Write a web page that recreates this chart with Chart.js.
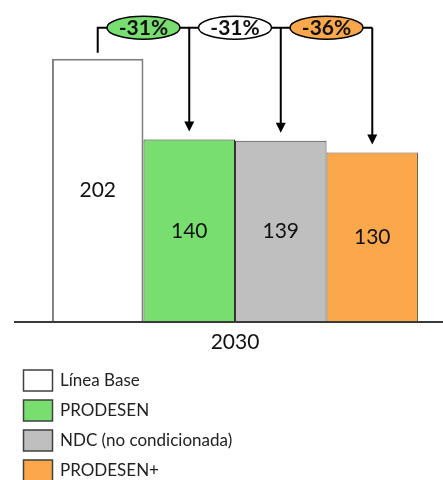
<!DOCTYPE html>
<html><head><meta charset="utf-8">
<script src="https://cdn.jsdelivr.net/npm/chart.js@4"></script>
<style>html,body{margin:0;padding:0;background:#fff}canvas{display:block}</style>
</head><body>
<canvas id="c" width="443" height="480"></canvas>
<script>
// Emisiones al 2030 por escenario
const categories = ['2030'];
const seriesNames = ['Línea Base', 'PRODESEN', 'NDC (no condicionada)', 'PRODESEN+'];
const lineaBase = [202];
const prodesen = [140];
const ndc = [139];
const prodesenPlus = [130];
const seriesValues = [lineaBase, prodesen, ndc, prodesenPlus];

const fillColors = ['#FFFFFF', '#78DE70', '#BFBFBF', '#FBA84C'];
const borderColors = ['#7F7F7F', '#2E2E2E', '#3A3A3A', '#6A5A4A'];
const FONT = 'Lato, "Open Sans", sans-serif';

const datasets = seriesNames.map((name, i) => ({
  label: name,
  data: seriesValues[i],
  backgroundColor: fillColors[i],
  borderColor: borderColors[i],
  borderWidth: i === 0 ? 2 : 1,
  barPercentage: 1,
  categoryPercentage: 0.88
}));

function arrowDown(ctx, x, y0, y1) {
  ctx.beginPath();
  ctx.moveTo(x, y0);
  ctx.lineTo(x, y1 - 8);
  ctx.stroke();
  ctx.beginPath();
  ctx.moveTo(x - 5, y1 - 10);
  ctx.lineTo(x + 5, y1 - 10);
  ctx.lineTo(x, y1);
  ctx.closePath();
  ctx.fill();
}

const overlay = {
  id: 'overlay',
  afterDatasetsDraw(chart) {
    const ctx = chart.ctx;
    const xs = chart.scales.x, ys = chart.scales.y;
    const bars = chart.data.datasets.map((d, i) => chart.getDatasetMeta(i).data[0]);
    const base = ys.getPixelForValue(0);
    ctx.save();

    // eje horizontal
    ctx.strokeStyle = '#3A3A3A';
    ctx.lineWidth = 2;
    ctx.beginPath();
    ctx.moveTo(14, base);
    ctx.lineTo(chart.width, base);
    ctx.stroke();

    // valores dentro de las barras
    ctx.fillStyle = '#111';
    ctx.font = '21px ' + FONT;
    ctx.textAlign = 'center';
    ctx.textBaseline = 'middle';
    bars.forEach((b, i) => {
      ctx.fillText(String(seriesValues[i][0]), b.x, (b.y + b.base) / 2);
    });

    // etiqueta de categoría
    ctx.fillText(categories[0], xs.getPixelForValue(0), base + 20);

    // conectores y flechas
    const yLine = 27.7;
    ctx.strokeStyle = '#000';
    ctx.fillStyle = '#000';
    ctx.lineWidth = 2;
    ctx.beginPath();
    ctx.moveTo(bars[0].x, bars[0].y - 6);
    ctx.lineTo(bars[0].x, yLine);
    ctx.lineTo(bars[bars.length - 1].x, yLine);
    ctx.stroke();
    for (let i = 1; i < bars.length; i++) {
      arrowDown(ctx, bars[i].x, yLine, bars[i].y - 8);
    }

    // elipses con la reducción respecto a la línea base
    const badgeFills = ['#78DE70', '#FFFFFF', '#FBA84C'];
    const baseVal = seriesValues[0][0];
    for (let i = 1; i < bars.length; i++) {
      const cx = bars[i].x - bars[i].width / 2;
      ctx.beginPath();
      ctx.ellipse(cx, yLine, 36.5, 11.5, 0, 0, Math.PI * 2);
      ctx.fillStyle = badgeFills[i - 1];
      ctx.fill();
      ctx.lineWidth = 1.5;
      ctx.strokeStyle = '#000';
      ctx.stroke();
      const pct = Math.round((seriesValues[i][0] / baseVal - 1) * 100);
      ctx.fillStyle = '#111';
      ctx.font = 'bold 21px ' + FONT;
      ctx.fillText(pct + '%', cx, yLine + 1);
    }

    // leyenda
    ctx.textAlign = 'left';
    ctx.font = '17px ' + FONT;
    seriesNames.forEach((name, i) => {
      const y = 370 + i * 30;
      ctx.fillStyle = fillColors[i];
      ctx.fillRect(23.5, y, 29, 21);
      ctx.strokeStyle = '#404040';
      ctx.lineWidth = 1.5;
      ctx.strokeRect(23.5, y, 29, 21);
      ctx.fillStyle = '#222';
      ctx.fillText(name, 60, y + 11);
    });
    ctx.restore();
  }
};

new Chart(document.getElementById('c'), {
  type: 'bar',
  data: { labels: categories, datasets },
  options: {
    responsive: false,
    animation: false,
    layout: { padding: { left: 27, right: 0, top: 0, bottom: 158 } },
    plugins: { legend: { display: false }, tooltip: { enabled: false } },
    scales: {
      x: { display: false },
      y: { display: false, min: 0, max: 247 }
    }
  },
  plugins: [overlay]
});
</script>
</body></html>
